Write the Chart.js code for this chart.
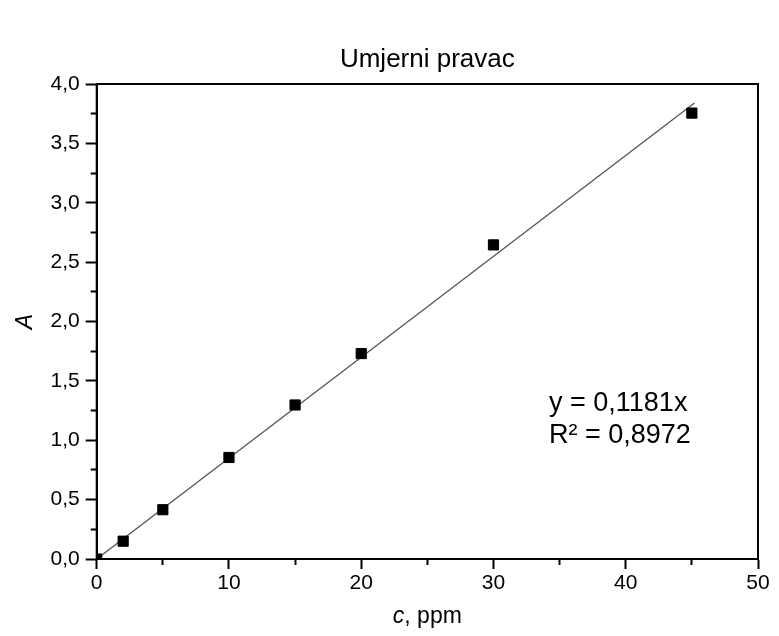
<!DOCTYPE html>
<html>
<head>
<meta charset="utf-8">
<script src="https://cdn.jsdelivr.net/npm/chart.js@4.4.0/dist/chart.umd.min.js"></script>
<style>
  html, body { margin: 0; padding: 0; background: #fff; }
  #wrap { width: 779px; height: 636px; }
</style>
</head>
<body>
<div id="wrap"><canvas id="chart"></canvas></div>
<script>
// measured points (c in ppm, absorbance A)
const concentrations = [0, 2, 5, 10, 15, 20, 30, 45];
const absorbances = [0.0, 0.15, 0.415, 0.855, 1.297, 1.73, 2.645, 3.755];

// drawn calibration line, end points
const fitX = [0, 45.2];
const fitY = [0, 3.84];

const xMajorTicks = [0, 10, 20, 30, 40, 50];
const xMinorTicks = [5, 15, 25, 35, 45];
const yMajorTicks = [0, 0.5, 1, 1.5, 2, 2.5, 3, 3.5, 4];
const yMinorTicks = [0.25, 0.75, 1.25, 1.75, 2.25, 2.75, 3.25, 3.75];

const chartTitle = 'Umjerni pravac';
const equationLines = ['y = 0,1181x', 'R\u00B2 = 0,8972'];

const FONT = '"Liberation Sans", Arial, sans-serif';

function buildTicks(major, minor) {
    return major.concat(minor).sort((a, b) => a - b).map(v => ({ value: v }));
}

function isMajor(list, v) {
    return list.some(m => Math.abs(m - v) < 1e-9);
}

// box round the plot, title, x axis label with italic c, equation text
const frameAndText = {
    id: 'frameAndText',
    afterDraw(chart) {
        const ctx = chart.ctx;
        const a = chart.chartArea;
        const xs = chart.scales.x, ys = chart.scales.y;
        ctx.save();
        ctx.strokeStyle = '#000';
        ctx.lineWidth = 2;
        ctx.strokeRect(a.left, a.top, a.right - a.left, a.bottom - a.top);

        ctx.fillStyle = '#000';
        ctx.textBaseline = 'alphabetic';
        ctx.textAlign = 'center';
        ctx.font = '26px ' + FONT;
        ctx.fillText(chartTitle, (a.left + a.right) / 2, 67);

        // x label: "c" italic, ", ppm" upright
        const italicFont = 'italic 23px ' + FONT;
        const normalFont = '23px ' + FONT;
        ctx.font = italicFont;
        const w1 = ctx.measureText('c').width;
        ctx.font = normalFont;
        const w2 = ctx.measureText(', ppm').width;
        let x0 = (a.left + a.right) / 2 - (w1 + w2) / 2;
        ctx.textAlign = 'left';
        ctx.font = italicFont;
        ctx.fillText('c', x0, 623);
        ctx.font = normalFont;
        ctx.fillText(', ppm', x0 + w1, 623);

        // equation text
        ctx.font = '27px ' + FONT;
        const ex = xs.getPixelForValue(34.2);
        ctx.fillText(equationLines[0], ex, ys.getPixelForValue(1.249));
        ctx.fillText(equationLines[1], ex, ys.getPixelForValue(0.974));
        ctx.restore();
    }
};

new Chart(document.getElementById('chart'), {
    type: 'scatter',
    data: {
        datasets: [{
            label: 'A',
            data: concentrations.map((c, i) => ({ x: c, y: absorbances[i] })),
            pointStyle: 'rect',
            pointRadius: 7.2,
            backgroundColor: '#000',
            borderColor: '#000',
            borderWidth: 1,
            clip: 0,
            order: 1
        }, {
            label: 'fit',
            type: 'line',
            data: fitX.map((x, i) => ({ x: x, y: fitY[i] })),
            borderColor: '#555',
            borderWidth: 1.3,
            pointRadius: 0,
            fill: false,
            order: 2
        }]
    },
    options: {
        responsive: true,
        maintainAspectRatio: false,
        animation: false,
        layout: { padding: { left: 0, right: 21, top: 84, bottom: 0 } },
        plugins: {
            legend: { display: false },
            tooltip: { enabled: false },
            title: { display: false }
        },
        scales: {
            x: {
                type: 'linear',
                min: 0,
                max: 50,
                afterBuildTicks: s => { s.ticks = buildTicks(xMajorTicks, xMinorTicks); },
                afterFit: s => { s.height = 77; },
                ticks: {
                    autoSkip: false,
                    maxRotation: 0,
                    padding: 2,
                    color: '#000',
                    font: { family: FONT, size: 21 },
                    callback: v => isMajor(xMajorTicks, v) ? String(v) : ''
                },
                grid: {
                    drawOnChartArea: false,
                    tickLength: 10,
                    tickColor: '#000',
                    tickWidth: 2,
                    tickBorderDash: ctx => isMajor(xMajorTicks, ctx.tick ? ctx.tick.value : 0) ? [] : [5, 1000]
                },
                border: { display: true, color: '#000', width: 2 }
            },
            y: {
                type: 'linear',
                min: 0,
                max: 4,
                afterBuildTicks: s => { s.ticks = buildTicks(yMajorTicks, yMinorTicks); },
                afterFit: s => { s.width = 96.7; },
                title: {
                    display: true,
                    text: 'A',
                    color: '#000',
                    padding: { top: 12, bottom: 0 },
                    font: { family: FONT, size: 23, style: 'italic' }
                },
                ticks: {
                    autoSkip: false,
                    padding: 6,
                    color: '#000',
                    font: { family: FONT, size: 21 },
                    callback: v => isMajor(yMajorTicks, v) ? v.toFixed(1).replace('.', ',') : ''
                },
                grid: {
                    drawOnChartArea: false,
                    tickLength: 11,
                    tickColor: '#000',
                    tickWidth: 2,
                    tickBorderDash: ctx => isMajor(yMajorTicks, ctx.tick ? ctx.tick.value : 0) ? [] : [0, 5, 6, 1000]
                },
                border: { display: true, color: '#000', width: 2 }
            }
        }
    },
    plugins: [frameAndText]
});
</script>
</body>
</html>
